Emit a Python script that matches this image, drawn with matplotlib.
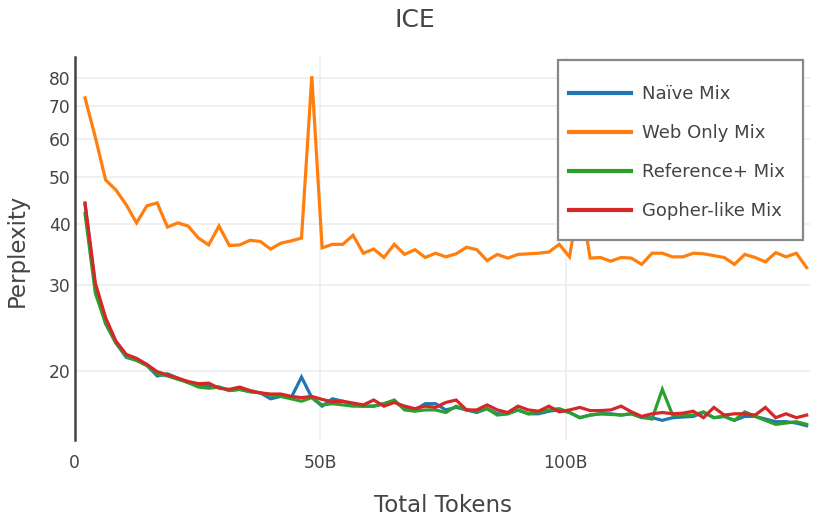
import matplotlib
matplotlib.use("Agg")
import matplotlib.pyplot as plt
from matplotlib.patches import Rectangle
from matplotlib.ticker import FixedLocator, NullLocator, FixedFormatter

plt.rcParams['font.family'] = ['DejaVu Sans']

# checkpoints, billions of tokens
tokens_b = [2.1, 4.2, 6.3, 8.4, 10.5, 12.6, 14.7, 16.8, 18.9, 21.0,
            23.1, 25.2, 27.3, 29.4, 31.5, 33.6, 35.7, 37.8, 39.9, 42.0,
            44.1, 46.2, 48.3, 50.4, 52.5, 54.6, 56.7, 58.8, 60.9, 63.0,
            65.1, 67.2, 69.3, 71.4, 73.5, 75.6, 77.7, 79.8, 81.9, 84.0,
            86.1, 88.2, 90.3, 92.4, 94.5, 96.6, 98.7, 100.8, 102.9, 105.0,
            107.1, 109.2, 111.3, 113.4, 115.5, 117.6, 119.7, 121.8, 123.9, 126.0,
            128.1, 130.2, 132.3, 134.4, 136.5, 138.6, 140.7, 142.8, 144.9, 147.0,
            149.1]

naive = [44.0, 29.8, 25.0, 22.8, 21.3, 21.0, 20.5, 19.5, 19.7, 19.3,
         18.9, 18.7, 18.6, 18.5, 18.2, 18.3, 18.1, 18.0, 17.5, 17.7,
         17.6, 19.4, 17.6, 16.9, 17.5, 17.3, 17.0, 16.9, 16.9, 17.1,
         17.3, 16.7, 16.6, 17.1, 17.1, 16.6, 16.8, 16.6, 16.4, 16.7,
         16.3, 16.3, 16.6, 16.3, 16.3, 16.5, 16.6, 16.4, 16.0, 16.2,
         16.3, 16.3, 16.2, 16.3, 16.0, 16.0, 15.8, 16.0, 16.05, 16.1,
         16.4, 16.0, 16.1, 15.8, 16.1, 16.1, 15.9, 15.7, 15.7, 15.6, 15.4]

web_only = [72.9, 60.5, 49.4, 47.1, 43.9, 40.3, 43.7, 44.3, 39.5, 40.3,
            39.7, 37.5, 36.3, 39.7, 36.2, 36.3, 37.1, 36.9, 35.6, 36.6,
            37.0, 37.5, 80.8, 35.8, 36.4, 36.4, 38.0, 34.9, 35.6, 34.2,
            36.4, 34.7, 35.5, 34.2, 34.9, 34.3, 34.8, 35.9, 35.5, 33.7,
            34.7, 34.1, 34.7, 34.8, 34.9, 35.1, 36.4, 34.3, 46.0, 34.1,
            34.2, 33.6, 34.2, 34.1, 33.1, 34.9, 34.9, 34.3, 34.3, 34.9,
            34.8, 34.5, 34.2, 33.1, 34.7, 34.2, 33.5, 35.0, 34.3, 34.9, 32.6]

reference_plus = [42.1, 28.9, 25.0, 22.8, 21.4, 21.0, 20.5, 19.7, 19.5, 19.2,
                  18.9, 18.5, 18.4, 18.5, 18.2, 18.3, 18.1, 18.0, 17.8, 17.7,
                  17.5, 17.3, 17.6, 17.0, 17.1, 17.0, 16.9, 16.9, 16.9, 17.1,
                  17.4, 16.6, 16.5, 16.6, 16.6, 16.4, 16.9, 16.6, 16.5, 16.7,
                  16.2, 16.3, 16.6, 16.3, 16.4, 16.6, 16.7, 16.4, 16.0, 16.2,
                  16.3, 16.25, 16.2, 16.3, 16.05, 15.9, 18.3, 16.2, 16.2, 16.2,
                  16.45, 16.0, 16.1, 15.8, 16.45, 16.1, 15.8, 15.5, 15.6, 15.7, 15.5]

gopher_like = [44.3, 30.3, 25.7, 23.0, 21.6, 21.2, 20.6, 19.9, 19.6, 19.3,
               19.0, 18.8, 18.85, 18.4, 18.3, 18.5, 18.2, 18.0, 17.9, 17.9,
               17.7, 17.6, 17.7, 17.45, 17.25, 17.3, 17.15, 17.0, 17.4, 16.9,
               17.2, 16.9, 16.7, 16.9, 16.8, 17.2, 17.4, 16.6, 16.6, 17.0,
               16.6, 16.4, 16.9, 16.6, 16.5, 16.9, 16.45, 16.6, 16.8, 16.55,
               16.55, 16.6, 16.9, 16.45, 16.1, 16.3, 16.4, 16.3, 16.35, 16.5,
               16.0, 16.8, 16.2, 16.3, 16.3, 16.2, 16.8, 16.0, 16.3, 16.0, 16.2]

series = [("Naïve Mix", naive, "#1f77b4"),
          ("Web Only Mix", web_only, "#ff7f0e"),
          ("Reference+ Mix", reference_plus, "#2ca02c"),
          ("Gopher-like Mix", gopher_like, "#d62728")]

y_ticks = [20, 30, 40, 50, 60, 70, 80]
x_ticks = [0, 50, 100]
x_tick_labels = ["0", "50B", "100B"]

W, H = 830, 520
fig = plt.figure(figsize=(W / 100, H / 100), dpi=100)
ax = fig.add_axes([0.09, 0.154, 0.886, 0.736])

for name, vals, col in series:
    ax.plot(tokens_b, vals, color=col, lw=2.3, label=name, solid_joinstyle='miter')

ax.set_yscale('log')
ax.set_ylim(14.4, 88.4)
ax.set_xlim(0, 149.8)
ax.yaxis.set_major_locator(FixedLocator(y_ticks))
ax.yaxis.set_major_formatter(FixedFormatter([str(t) for t in y_ticks]))
ax.yaxis.set_minor_locator(NullLocator())
ax.set_xticks(x_ticks)
ax.set_xticklabels(x_tick_labels)

ax.grid(True, color='#eeeeee', lw=1.2)
ax.set_axisbelow(True)
for s in ['top', 'right', 'bottom']:
    ax.spines[s].set_visible(False)
ax.spines['left'].set_color('#444444')
ax.spines['left'].set_linewidth(1.8)
ax.tick_params(length=0, labelsize=12.3, colors='#444444', pad=3)
ax.tick_params(axis='x', pad=10)

# axis titles and chart title placed in pixels like the reference
fig.text(443 / W, 1 - 505 / H, "Total Tokens", fontsize=16.5, color='#444444',
         ha='center', va='center')
fig.text(17 / W, 1 - 250 / H, "Perplexity", fontsize=16.5, color='#444444',
         ha='center', va='center', rotation=90)
fig.text(0.5, 1 - 20 / H, "ICE", fontsize=18, color='#444444',
         ha='center', va='center')

# legend box drawn by hand so the padding matches
box = Rectangle((558 / W, 1 - 240 / H), 245 / W, 180 / H, transform=fig.transFigure,
                facecolor='white', edgecolor='#888888', lw=1.6, zorder=4)
ax.add_patch(box)
box.set_clip_on(False)

leg = ax.legend(loc='upper left', bbox_to_anchor=(569 / W, 1 - 85 / H),
                bbox_transform=fig.transFigure, fontsize=13,
                frameon=False, handlelength=3.45, handletextpad=0.6,
                labelspacing=1.17, borderpad=0, borderaxespad=0)
leg.set_zorder(5)
for t in leg.get_texts():
    t.set_color('#444444')
for l in leg.get_lines():
    l.set_linewidth(3)

fig.savefig("out.png", dpi=100)
